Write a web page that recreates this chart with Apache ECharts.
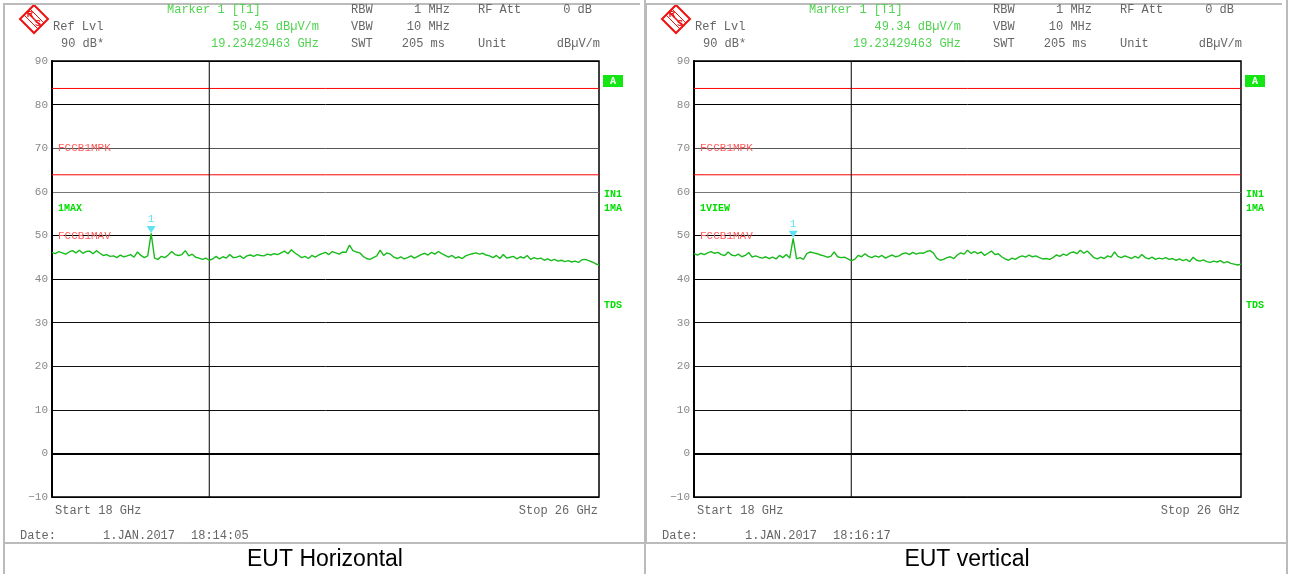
<!DOCTYPE html>
<html><head><meta charset="utf-8">
<script src="https://cdn.jsdelivr.net/npm/echarts@6/dist/echarts.min.js"></script>
<style>html,body{margin:0;padding:0;background:#fff}#c{width:1289px;height:574px}</style>
</head><body><div id="c"></div>
<script>
// ---- data ----
const startGHz = 18, stopGHz = 26, stepGHz = 0.05;
const yTicks = [-10, 0, 10, 20, 30, 40, 50, 60, 70, 80, 90];
const limitPeak = 83.7, limitAvg = 63.9;
const gridLineGHz = 20.3;
const markerGHz = 19.45;
const captions = ['EUT Horizontal', 'EUT vertical'];
const markerLevels = ['50.45 dBµV/m', '49.34 dBµV/m'];
const markerFreqText = '19.23429463 GHz';
const dateTimes = ['18:14:05', '18:16:17'];
const traceNames = ['1MAX', '1VIEW'];
const traceH = [
 46.1,45.8,46.3,46.0,45.7,46.2,
 46.5,46.0,46.6,45.9,46.3,46.4,45.8,46.5,45.9,
 45.4,45.6,45.2,45.3,44.9,45.5,45.1,45.3,45.6,
 45.0,46.2,45.4,44.9,45.3,
 50.45,
 44.8,44.5,45.2,44.9,45.5,46.3,45.6,
 45.4,45.6,46.5,45.3,45.7,45.0,44.8,
 44.5,44.8,44.3,44.6,
 45.2,44.6,45.1,44.8,45.6,44.9,45.0,45.3,44.7,
 45.3,45.5,45.2,45.6,45.4,45.3,45.7,45.5,45.8,45.6,
 46.0,46.4,45.8,46.7,46.0,45.5,
 44.9,45.2,44.7,45.4,45.0,45.5,
 45.8,46.1,45.6,46.3,46.0,45.7,46.2,
 46.1,47.8,46.5,46.2,
 46.0,45.2,44.7,44.5,44.9,
 45.3,46.6,45.4,46.0,45.7,
 45.0,44.7,45.1,44.6,44.9,45.3,44.8,45.2,
 45.6,45.9,45.5,46.1,45.7,46.3,45.8,45.4,
 45.0,45.4,44.8,45.1,44.7,45.3,45.6,
 45.8,46.0,45.7,45.9,45.5,45.3,
 44.9,45.4,44.7,45.6,44.8,45.0,
 45.2,44.6,45.1,44.8,45.4,44.5,44.9,44.6,44.8,
 44.3,44.6,44.2,44.5,44.1,44.3,
 44.0,44.2,43.9,44.1,43.8,44.4,
 44.5,44.2,43.9,43.5,43.2
];
const traceV = [
 45.8,45.5,45.9,45.6,
 46.0,46.3,45.9,46.1,
 45.6,45.4,46.2,45.5,45.3,45.7,
 45.1,45.4,46.1,45.0,45.3,45.0,
 44.8,45.1,44.7,45.0,44.6,45.4,44.9,45.6,44.8,
 49.34,
 44.6,44.9,44.5,
 45.8,46.2,46.0,45.8,45.5,
 45.3,45.0,45.2,46.2,45.1,44.9,45.0,
 44.6,44.2,44.5,
 45.4,45.1,45.8,45.2,
 44.9,45.3,45.0,45.4,44.8,45.2,45.5,45.1,45.3,
 45.8,46.0,45.6,46.1,45.7,46.0,45.9,46.3,46.5,
 46.0,44.8,44.3,44.5,
 44.9,45.1,44.7,45.5,46.0,
 45.7,46.6,45.9,46.3,45.8,
 46.2,45.4,45.9,46.4,45.6,45.8,45.1,
 44.6,44.3,44.8,44.5,45.0,
 45.3,45.0,45.5,45.1,45.3,44.9,
 44.6,44.7,44.5,44.9,
 45.5,45.2,45.7,45.4,46.0,
 46.2,45.8,46.6,45.9,46.4,45.7,
 44.9,44.6,45.0,44.7,45.3,
 45.0,46.2,45.2,44.9,45.3,45.0,
 44.7,45.2,44.8,45.6,44.9,44.6,45.0,44.5,
 44.8,44.6,44.9,44.5,44.7,44.3,44.6,44.2,
 44.5,44.0,45.0,44.3,44.1,44.4,44.0,
 43.8,44.1,43.9,44.2,43.7,44.0,43.6,
 43.4,43.2,43.4
];
const traces = [traceH, traceV];

// ---- styling ----
const MONO = '"Liberation Mono","DejaVu Sans Mono",monospace';
const GRAY = '#666';
const LGREEN = '#4fd34f';
const BGREEN = '#00dd00';
const PINK = '#ff5a5a';
const PANEL_DX = 642;
const PLOT_L = 52, PLOT_T = 61, PLOT_W = 547, PLOT_H = 436;

const chart = echarts.init(document.getElementById('c'), null, {renderer: 'canvas'});

function txt(x, y, s, opt) {
  opt = opt || {};
  return {type: 'text', x: x, y: y, silent: true, z: 10,
    style: {text: s, fill: opt.color || GRAY, font: (opt.weight || 'normal') + ' ' + (opt.size || 12) + 'px ' + (opt.family || MONO),
      textAlign: opt.align || 'left', textVerticalAlign: 'middle'}};
}

const grids = [], xAxes = [], yAxes = [], series = [], graphics = [];
const splitColors = ['#000','#111','#111','#111','#111','#000','#000','#777','#555','#000','#000'];

function flatLine(p, pts, color, z) {
  return {type: 'line', xAxisIndex: p, yAxisIndex: p, data: pts, symbol: 'none', showSymbol: false, silent: true,
    animation: false, z: z, lineStyle: {color: color, width: 1, type: 'solid'}, itemStyle: {color: color},
    emphasis: {disabled: true}};
}

for (let p = 0; p < 2; p++) {
  const dx = p * PANEL_DX;
  grids.push({left: PLOT_L + dx, top: PLOT_T, width: PLOT_W, height: PLOT_H, show: true, borderColor: '#000', borderWidth: 1.5, backgroundColor: 'transparent'});
  xAxes.push({gridIndex: p, type: 'value', min: startGHz, max: stopGHz, axisLabel: {show: false}, axisTick: {show: false}, splitLine: {show: false},
    axisLine: {show: true, lineStyle: {color: '#000', width: 2}}});
  yAxes.push({gridIndex: p, type: 'value', min: yTicks[0], max: yTicks[yTicks.length - 1], interval: 10,
    axisLine: {show: true, lineStyle: {color: '#000', width: 2}}, axisTick: {show: false},
    axisLabel: {color: '#888', fontFamily: MONO, fontSize: 11, margin: 4, formatter: v => (v < 0 ? '\u2212' + (-v) : '' + v)},
    splitLine: {show: true, lineStyle: {color: splitColors, width: 1}}});
  const tr = traces[p];
  const data = tr.map((v, i) => [startGHz + i * stepGHz, v]);
  // limit lines (red) and vertical grid line
  series.push(flatLine(p, [[startGHz, limitPeak], [stopGHz, limitPeak]], '#ff0000', 3));
  series.push(flatLine(p, [[startGHz, limitAvg], [stopGHz, limitAvg]], '#ff0000', 3));
  series.push(flatLine(p, [[gridLineGHz, yTicks[0]], [gridLineGHz, yTicks[yTicks.length - 1]]], '#000000', 3));
  series.push({type: 'line', xAxisIndex: p, yAxisIndex: p, data: data, showSymbol: false, symbol: 'none', animation: false,
    lineStyle: {color: '#19bb1c', width: 1.4}, itemStyle: {color: '#19bb1c'}, z: 5,
    markPoint: {animation: false, silent: true,
      data: [{coord: [markerGHz, tr[Math.round((markerGHz - startGHz) / stepGHz)]]}],
      symbol: 'path://M0,0 L10,0 L5,8 Z', symbolSize: [9, 7], symbolOffset: [0, -4],
      itemStyle: {color: '#5fe3f0'},
      label: {show: true, position: 'top', distance: 1, formatter: '1', color: '#5fe3f0', fontFamily: MONO, fontSize: 11}}
  });

  // header
  graphics.push(txt(167 + dx, 10, 'Marker 1 [T1]', {color: LGREEN}));
  graphics.push(txt(53 + dx, 27, 'Ref Lvl'));
  graphics.push(txt(61 + dx, 44, '90 dB*'));
  graphics.push(txt(319 + dx, 27, markerLevels[p], {color: LGREEN, align: 'right'}));
  graphics.push(txt(319 + dx, 44, markerFreqText, {color: LGREEN, align: 'right'}));
  graphics.push(txt(351 + dx, 10, 'RBW'));
  graphics.push(txt(450 + dx, 10, '1 MHz', {align: 'right'}));
  graphics.push(txt(478 + dx, 10, 'RF Att'));
  graphics.push(txt(592 + dx, 10, '0 dB', {align: 'right'}));
  graphics.push(txt(351 + dx, 27, 'VBW'));
  graphics.push(txt(450 + dx, 27, '10 MHz', {align: 'right'}));
  graphics.push(txt(351 + dx, 44, 'SWT'));
  graphics.push(txt(445 + dx, 44, '205 ms', {align: 'right'}));
  graphics.push(txt(478 + dx, 44, 'Unit'));
  graphics.push(txt(600 + dx, 44, 'dBµV/m', {align: 'right'}));
  // in-plot labels
  graphics.push(txt(58 + dx, 148, 'FCCB1MPK', {color: PINK, size: 11}));
  graphics.push(txt(58 + dx, 236, 'FCCB1MAV', {color: PINK, size: 11}));
  graphics.push(txt(58 + dx, 208, traceNames[p], {color: BGREEN, size: 10, weight: 'bold'}));
  // right side labels
  graphics.push({type: 'rect', shape: {x: 603 + dx, y: 75, width: 20, height: 12}, style: {fill: '#14e614'}, silent: true});
  graphics.push(txt(613 + dx, 81, 'A', {color: '#fff', size: 10, weight: 'bold', align: 'center'}));
  graphics.push(txt(604 + dx, 194, 'IN1', {color: BGREEN, size: 10, weight: 'bold'}));
  graphics.push(txt(604 + dx, 208, '1MA', {color: BGREEN, size: 10, weight: 'bold'}));
  graphics.push(txt(604 + dx, 305, 'TDS', {color: BGREEN, size: 10, weight: 'bold'}));
  // bottom
  graphics.push(txt(55 + dx, 511, 'Start 18 GHz'));
  graphics.push(txt(598 + dx, 511, 'Stop 26 GHz', {align: 'right'}));
  graphics.push(txt(20 + dx, 536, 'Date:'));
  graphics.push(txt(103 + dx, 536, '1.JAN.2017'));
  graphics.push(txt(191 + dx, 536, dateTimes[p]));
  graphics.push(txt(325 + dx, 560, captions[p], {color: '#000', size: 23, family: '"Liberation Sans", Arial, sans-serif', align: 'center'}));
  // logo
  const cx = 34 + dx, cy = 19;
  graphics.push({type: 'polygon', shape: {points: [[cx, cy - 14], [cx + 14, cy], [cx, cy + 14], [cx - 14, cy]]}, style: {fill: 'none', stroke: '#ee1111', lineWidth: 2}, silent: true});
  graphics.push({type: 'polyline', shape: {points: [[cx - 7, cy - 7], [cx + 7, cy + 7]]}, style: {stroke: '#ee1111', lineWidth: 1.5}, silent: true});
  graphics.push({type: 'polyline', shape: {points: [[cx - 4, cy - 10], [cx + 10, cy + 4]]}, style: {stroke: '#ee1111', lineWidth: 1}, silent: true});
  graphics.push({type: 'polyline', shape: {points: [[cx - 10, cy - 4], [cx + 4, cy + 10]]}, style: {stroke: '#ee1111', lineWidth: 1}, silent: true});
  graphics.push(txt(cx - 4, cy - 4, 'R', {color: '#ee1111', size: 9, weight: 'bold', family: '"Liberation Sans",sans-serif', align: 'center'}));
  graphics.push(txt(cx + 4, cy + 5, 'S', {color: '#ee1111', size: 9, weight: 'bold', family: '"Liberation Sans",sans-serif', align: 'center'}));
  // screenshot frame
  graphics.push({type: 'polyline', shape: {points: [[4 + dx, 543], [4 + dx, 4], [640 + dx, 4]]}, style: {stroke: '#bbb', lineWidth: 2, fill: 'none'}, silent: true});
}
// table lines
graphics.push({type: 'line', shape: {x1: 645, y1: 0, x2: 645, y2: 574}, style: {stroke: '#bbb', lineWidth: 2}, silent: true});
graphics.push({type: 'line', shape: {x1: 1287, y1: 0, x2: 1287, y2: 574}, style: {stroke: '#bbb', lineWidth: 2}, silent: true});
graphics.push({type: 'line', shape: {x1: 4, y1: 543, x2: 1287, y2: 543}, style: {stroke: '#bbb', lineWidth: 2}, silent: true});
graphics.push({type: 'line', shape: {x1: 4, y1: 543, x2: 4, y2: 574}, style: {stroke: '#bbb', lineWidth: 2}, silent: true});

chart.setOption({animation: false, grid: grids, xAxis: xAxes, yAxis: yAxes, series: series, graphic: graphics});
</script>
</body></html>
